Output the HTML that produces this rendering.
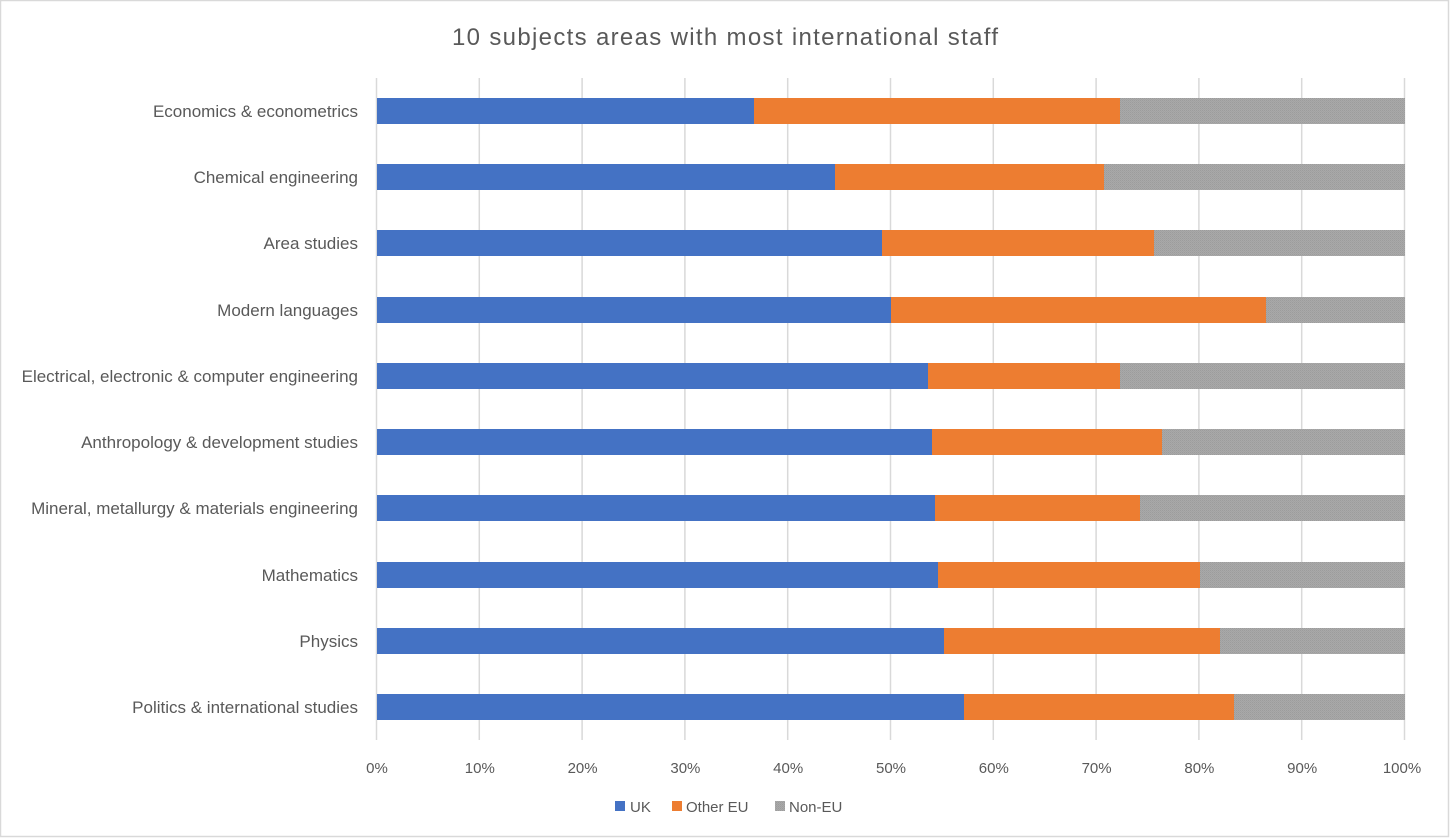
<!DOCTYPE html>
<html><head><style>body{margin:0;background:#fff}svg{display:block}text{font-family:"Liberation Sans",sans-serif;fill:#595959}</style></head>
<body>
<svg width="1450" height="838" xmlns="http://www.w3.org/2000/svg">
<defs><pattern id="g" width="2" height="2" patternUnits="userSpaceOnUse"><rect width="2" height="2" fill="#a9a9a9"/><rect width="1" height="1" fill="#9c9c9c"/><rect x="1" y="1" width="1" height="1" fill="#a2a2a2"/></pattern></defs>
<rect x="0.5" y="0.5" width="1448" height="836" fill="#fff" stroke="#d9d9d9" stroke-width="1.5"/>
<text x="452" y="45" font-size="24" textLength="546" lengthAdjust="spacing">10 subjects areas with most international staff</text>
<g stroke="#d9d9d9" stroke-width="1.5">
<line x1="376.5" y1="78" x2="376.5" y2="740"/><line x1="479.3" y1="78" x2="479.3" y2="740"/><line x1="582.1" y1="78" x2="582.1" y2="740"/><line x1="684.9" y1="78" x2="684.9" y2="740"/><line x1="787.7" y1="78" x2="787.7" y2="740"/><line x1="890.5" y1="78" x2="890.5" y2="740"/><line x1="993.3" y1="78" x2="993.3" y2="740"/><line x1="1096.1" y1="78" x2="1096.1" y2="740"/><line x1="1198.9" y1="78" x2="1198.9" y2="740"/><line x1="1301.7" y1="78" x2="1301.7" y2="740"/><line x1="1404.5" y1="78" x2="1404.5" y2="740"/>
</g>
<g id="bars">
<rect x="377" y="98" width="377" height="26" fill="#4472c4"/><rect x="754" y="98" width="366" height="26" fill="#ed7d31"/><rect x="1120" y="98" width="285" height="26" fill="url(#g)"/>
<rect x="377" y="164" width="458" height="26" fill="#4472c4"/><rect x="835" y="164" width="269" height="26" fill="#ed7d31"/><rect x="1104" y="164" width="301" height="26" fill="url(#g)"/>
<rect x="377" y="230" width="505" height="26" fill="#4472c4"/><rect x="882" y="230" width="272" height="26" fill="#ed7d31"/><rect x="1154" y="230" width="251" height="26" fill="url(#g)"/>
<rect x="377" y="297" width="514" height="26" fill="#4472c4"/><rect x="891" y="297" width="375" height="26" fill="#ed7d31"/><rect x="1266" y="297" width="139" height="26" fill="url(#g)"/>
<rect x="377" y="363" width="551" height="26" fill="#4472c4"/><rect x="928" y="363" width="192" height="26" fill="#ed7d31"/><rect x="1120" y="363" width="285" height="26" fill="url(#g)"/>
<rect x="377" y="429" width="555" height="26" fill="#4472c4"/><rect x="932" y="429" width="230" height="26" fill="#ed7d31"/><rect x="1162" y="429" width="243" height="26" fill="url(#g)"/>
<rect x="377" y="495" width="558" height="26" fill="#4472c4"/><rect x="935" y="495" width="205" height="26" fill="#ed7d31"/><rect x="1140" y="495" width="265" height="26" fill="url(#g)"/>
<rect x="377" y="562" width="561" height="26" fill="#4472c4"/><rect x="938" y="562" width="262" height="26" fill="#ed7d31"/><rect x="1200" y="562" width="205" height="26" fill="url(#g)"/>
<rect x="377" y="628" width="567" height="26" fill="#4472c4"/><rect x="944" y="628" width="276" height="26" fill="#ed7d31"/><rect x="1220" y="628" width="185" height="26" fill="url(#g)"/>
<rect x="377" y="694" width="587" height="26" fill="#4472c4"/><rect x="964" y="694" width="270" height="26" fill="#ed7d31"/><rect x="1234" y="694" width="171" height="26" fill="url(#g)"/>
</g>
<g font-size="17" text-anchor="end">
<text x="358" y="117">Economics &amp; econometrics</text>
<text x="358" y="183">Chemical engineering</text>
<text x="358" y="249">Area studies</text>
<text x="358" y="316">Modern languages</text>
<text x="358" y="382">Electrical, electronic &amp; computer engineering</text>
<text x="358" y="448">Anthropology &amp; development studies</text>
<text x="358" y="514">Mineral, metallurgy &amp; materials engineering</text>
<text x="358" y="581">Mathematics</text>
<text x="358" y="647">Physics</text>
<text x="358" y="713">Politics &amp; international studies</text>
</g>
<g font-size="15" text-anchor="middle">
<text x="377" y="773">0%</text><text x="479.8" y="773">10%</text><text x="582.6" y="773">20%</text><text x="685.4" y="773">30%</text><text x="788.2" y="773">40%</text><text x="891" y="773">50%</text><text x="993.8" y="773">60%</text><text x="1096.6" y="773">70%</text><text x="1199.4" y="773">80%</text><text x="1302.2" y="773">90%</text><text x="1402" y="773">100%</text>
</g>
<rect x="615" y="801" width="10" height="10" fill="#4472c4"/><text x="630" y="812" font-size="15">UK</text>
<rect x="672" y="801" width="10" height="10" fill="#ed7d31"/><text x="686" y="812" font-size="15">Other EU</text>
<rect x="775" y="801" width="10" height="10" fill="url(#g)"/><text x="789" y="812" font-size="15">Non-EU</text>
</svg>
</body></html>
